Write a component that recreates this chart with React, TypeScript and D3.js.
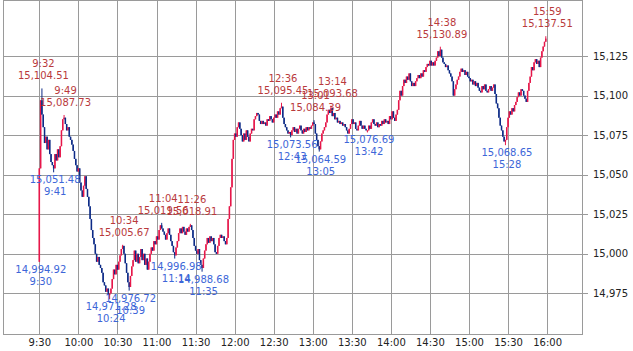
import React from "react";
import * as d3 from "d3";

// minutes after 9:30, one close per minute (rows of 10 minutes)
const firstOpen = 14994.92;
const closes: number[] = [
  15054,15097,15088,15080,15070,15074,15066,15072,15063,15058,
  15056,15054,15063,15059,15066,15061,15068,15078,15085,15086,
  15082,15078,15080,15074,15072,15069,15065,15060,15056,15052,
  15054,15045,15040,15036,15043,15049,15041,15036,15030,15022,
  15015,15010,15006,15000,14995,14998,14993,14991,14988,14982,
  14980,14976,14978,14974,14975,14978,14984,14990,14987,14993,
  14990,14995,14999,15003,15005,15000,14994,14988,14982,14979,
  14986,14992,14996,15002,14995,15000,14994,14998,15003,14996,
  15000,14993,14997,14990,14995,15000,15004,15002,15008,15006,
  15011,15009,15015,15018,15016,15014,15012,15009,15013,15016,
  15012,15008,15005,15001,14999,15004,15008,15013,15016,15013,
  15017,15014,15012,15016,15014,15017,15018,15015,15010,15005,
  15002,15000,15003,14996,14993,14991,14997,15002,15006,15010,
  15007,15011,15008,15010,15006,15001,15000,15005,15010,15012,
  15010,15011,15008,15006,15010,15022,15030,15042,15060,15072,
  15076,15074,15080,15083,15079,15075,15071,15076,15072,15078,
  15074,15071,15076,15079,15078,15085,15087,15089,15088,15084,
  15082,15084,15082,15083,15081,15085,15084,15087,15085,15083,
  15086,15088,15086,15090,15088,15092,15093,15086,15082,15080,
  15078,15076,15077,15075,15078,15080,15077,15079,15076,15079,
  15081,15078,15076,15079,15077,15080,15078,15080,15079,15081,
  15083,15082,15076,15072,15068,15066,15071,15076,15078,15080,
  15083,15088,15091,15089,15092,15087,15089,15085,15086,15083,
  15084,15082,15083,15081,15082,15080,15078,15076,15079,15082,
  15085,15082,15083,15079,15078,15081,15084,15081,15079,15081,
  15079,15078,15078,15081,15079,15083,15085,15082,15081,15083,
  15080,15082,15081,15084,15082,15085,15083,15084,15082,15087,
  15085,15090,15086,15084,15088,15091,15097,15103,15100,15106,
  15110,15108,15112,15110,15114,15109,15106,15108,15106,15109,
  15111,15113,15111,15114,15112,15116,15115,15118,15120,15119,
  15122,15119,15121,15119,15122,15124,15128,15125,15129,15124,
  15121,15120,15118,15119,15116,15114,15112,15109,15100,15104,
  15107,15110,15112,15115,15117,15115,15116,15113,15115,15112,
  15111,15109,15110,15107,15109,15106,15108,15105,15103,15102,
  15106,15104,15107,15103,15102,15104,15106,15103,15105,15107,
  15101,15095,15092,15086,15081,15078,15074,15071,15072,15080,
  15086,15090,15088,15092,15090,15094,15096,15099,15102,15100,
  15104,15103,15100,15098,15096,15103,15108,15112,15118,15116,
  15121,15123,15120,15122,15118,15124,15128,15131,15134,15136,
];

const highTimes = ["9:32","9:49","10:34","11:04","11:26","12:36","13:01","13:14","14:38","15:59"];
const highValues = [15104.51,15087.73,15005.67,15019.56,15018.91,15095.45,15084.39,15093.68,15130.89,15137.51];
const lowTimes = ["9:30","9:41","10:24","10:39","11:14","11:35","12:43","13:05","13:42","15:28"];
const lowValues = [14994.92,15051.48,14971.28,14976.72,14996.98,14988.68,15073.56,15064.59,15076.69,15068.65];

const xTickLabels = ["9:30","10:00","10:30","11:00","11:30","12:00","12:30","13:00","13:30","14:00","14:30","15:00","15:30","16:00"];
const yTicks = [14975, 15000, 15025, 15050, 15075, 15100, 15125];

const W = 633, H = 351;
const UP = "#e6174a";
const DOWN = "#0c2a86";
const HIGH_TXT = "#b93a3c";
const LOW_TXT = "#3d66d8";
const GRID = "#9a9a9a";
const FONT = "DejaVu Sans, sans-serif";

const toMin = (s: string) => {
  const [h, m] = s.split(":").map(Number);
  return (h - 9) * 60 + m - 30;
};

export default function App() {
  const left = 3, right = 582, top = 0, bottom = 334;
  const x = d3.scaleLinear().domain([-27.9, 416.8]).range([left, right]);
  const y = d3.scaleLinear().domain([14949.3, 15160.4]).range([bottom, top]);

  const candles = closes.map((c, i) => {
    const o = i === 0 ? firstOpen : closes[i - 1];
    return { t: i, o, c, h: Math.max(o, c), l: Math.min(o, c) };
  });
  highTimes.forEach((t, k) => {
    const cd = candles[toMin(t)];
    if (cd) cd.h = Math.max(cd.h, highValues[k]);
  });
  lowTimes.forEach((t, k) => {
    const cd = candles[toMin(t)];
    if (cd) cd.l = Math.min(cd.l, lowValues[k]);
  });

  const fmtY = d3.format(",");
  const fmtV = d3.format(",.2f");
  const bw = 1.5;

  return (
    <svg width={W} height={H} style={{ position: "absolute", left: 0, top: 0, background: "#fff" }} fontFamily={FONT}>
      {/* grid */}
      {xTickLabels.map((lab) => {
        const xx = Math.round(x(toMin(lab))) + 0.5;
        return <line key={"gx" + lab} x1={xx} x2={xx} y1={top} y2={bottom} stroke={GRID} strokeWidth={1} />;
      })}
      {yTicks.map((v) => {
        const yy = Math.round(y(v)) + 0.5;
        return <line key={"gy" + v} x1={left} x2={right + 6} y1={yy} y2={yy} stroke={GRID} strokeWidth={1} />;
      })}
      <rect x={left + 0.5} y={top + 0.5} width={right - left} height={bottom - top} fill="none" stroke={GRID} strokeWidth={1} />

      {/* candles */}
      {candles.map((d) => {
        const cx = x(d.t);
        const col = d.c >= d.o ? UP : DOWN;
        const yt = y(Math.max(d.o, d.c));
        const yb = y(Math.min(d.o, d.c));
        return (
          <g key={"c" + d.t}>
            <line x1={cx} x2={cx} y1={y(d.h)} y2={y(d.l)} stroke={col} strokeWidth={1} />
            <rect x={cx - bw / 2} y={yt} width={bw} height={Math.max(1, yb - yt)} fill={col} />
          </g>
        );
      })}

      {/* annotations */}
      {highTimes.map((t, k) => {
        const cx = x(toMin(t)) + 1.5;
        const py = y(highValues[k]);
        return (
          <g key={"h" + t} fill={HIGH_TXT} fontSize={10} textAnchor="middle">
            <text x={cx} y={py - 21}>{t}</text>
            <text x={cx} y={py - 9}>{fmtV(highValues[k])}</text>
          </g>
        );
      })}
      {lowTimes.map((t, k) => {
        const cx = x(toMin(t)) + 1.5;
        const py = y(lowValues[k]);
        return (
          <g key={"l" + t} fill={LOW_TXT} fontSize={10} textAnchor="middle">
            <text x={cx} y={py + 11}>{fmtV(lowValues[k])}</text>
            <text x={cx} y={py + 23}>{t}</text>
          </g>
        );
      })}

      {/* axes labels */}
      {xTickLabels.map((lab) => (
        <text key={"xl" + lab} x={x(toMin(lab)) + 0.5} y={346} fontSize={10} textAnchor="middle" fill="#222">{lab}</text>
      ))}
      {yTicks.map((v) => (
        <text key={"yl" + v} x={593} y={y(v)} dy="0.35em" fontSize={10} fill="#222">{fmtY(v)}</text>
      ))}
    </svg>
  );
}
